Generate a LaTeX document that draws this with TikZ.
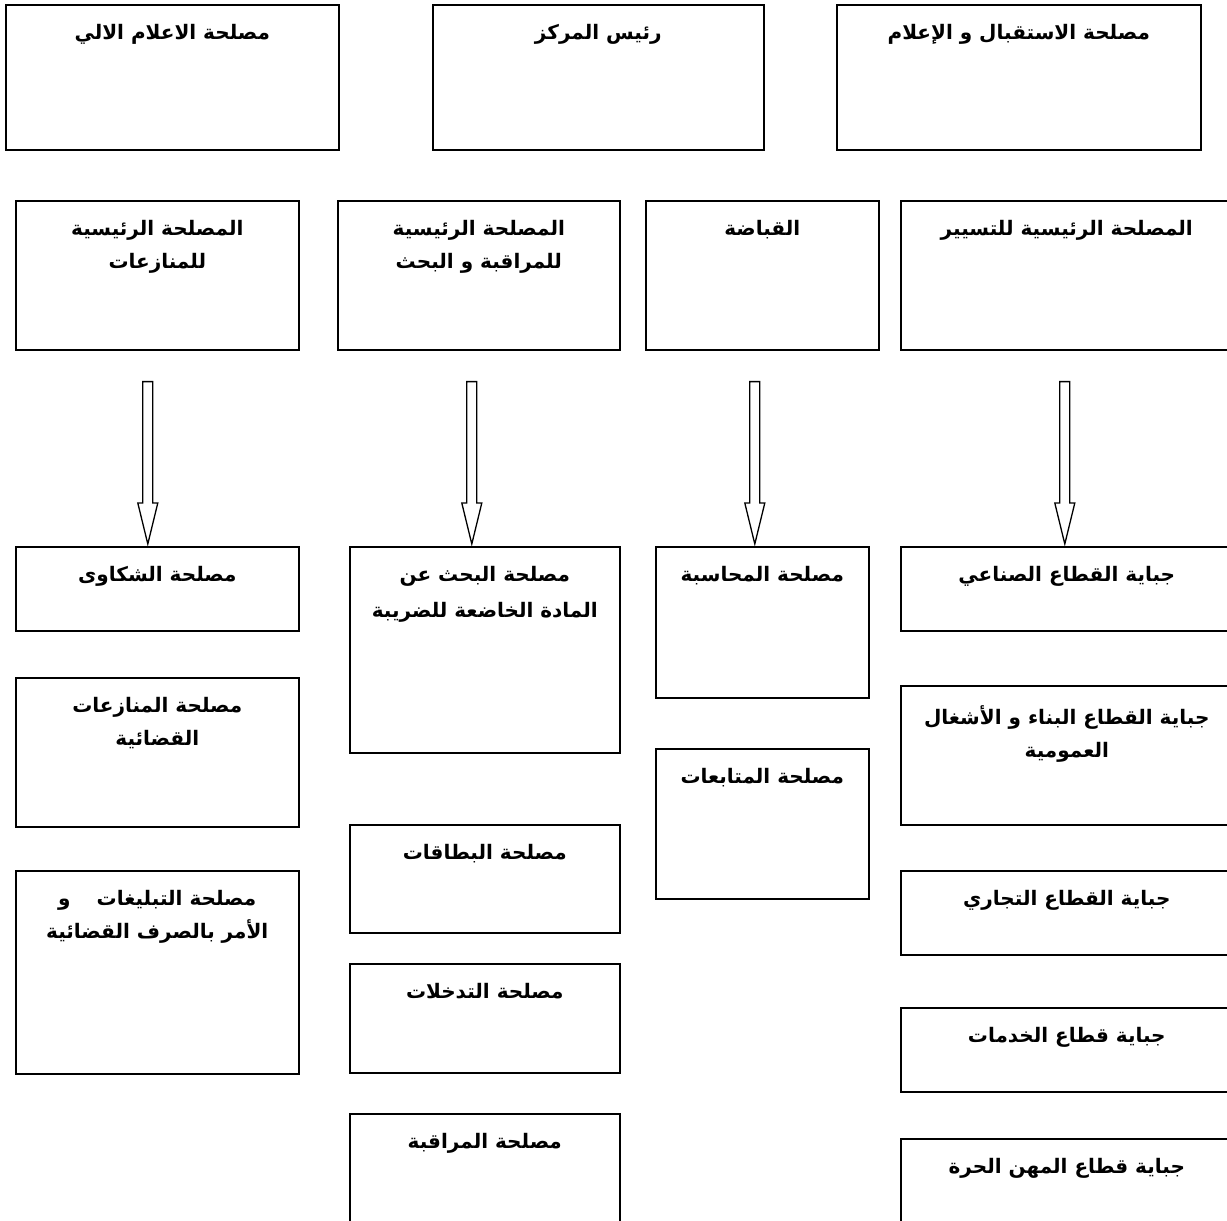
\documentclass[tikz,border=0pt]{standalone}
\usepackage{fontspec}
\TeXXeTstate=1
\newfontfamily\arabicfont[Script=Arabic]{DejaVu Sans}
\usetikzlibrary{calc}
\newcommand\artx[1]{\beginR #1\endR}
\newcommand\ttoff{-20}
\tikzset{
  box/.style={draw, line width=1.6pt, anchor=north west, inner sep=0pt, rectangle},
  ttl/.style={font=\arabicfont\bfseries\fontsize{20}{33}\selectfont, align=center, anchor=north, inner sep=0pt},
  harrow/.style={draw, line width=1.3pt, fill=white, line join=miter}
}
\newcommand\bx[6]{%
  \node[box, minimum width={(#4-#2)*1pt}, minimum height={(#5-#3)*1pt}] (#1) at (#2,#3) {};
  \node[ttl] (#1t) at ($(#1.north)+(0,-\ttoff)$) {#6};}
\newcommand\harr[3]{% source, target, x offset of tip from target centre
  \coordinate (#2tip) at ($(#2.north)+(#3,-2)$);
  \coordinate (#1tail) at ($(#1.south)+(0,31)$);
  \draw[harrow] ($(#1tail -| #2tip)+(-5,0)$) -- ($(#2tip)+(-5,-41)$) -- ++(-5,0) -- (#2tip)
     -- ++(10,-41) -- ++(-5,0) -- ($(#1tail -| #2tip)+(5,0)$) -- cycle;}
\begin{document}
\begin{tikzpicture}[x=1pt,y=-1pt]
\useasboundingbox (0,0) rectangle (1227,1221);
\fill[white] (0,0) rectangle (1227,1221);
\clip (0,0) rectangle (1227,1221);
% top row
\bx{A}{5}{4}{338}{149}{\artx{مصلحة الاعلام الالي}}
\bx{B}{432}{4}{763}{149}{\artx{رئيس المركز}}
\bx{C}{836}{4}{1200}{149}{\artx{مصلحة الاستقبال و الإعلام}}
% middle row
\bx{D}{15}{200}{298}{349}{\artx{المصلحة الرئيسية}\\\artx{للمنازعات}}
\bx{E}{337}{200}{619}{349}{\artx{المصلحة الرئيسية}\\\artx{للمراقبة و البحث}}
\bx{F}{645}{200}{878}{349}{\artx{القباضة}}
\bx{G}{900}{200}{1232}{349}{\artx{المصلحة الرئيسية للتسيير}}
% column 1
\bx{pa}{15}{546}{298}{630}{\artx{مصلحة الشكاوى}}
\bx{pb}{15}{677}{298}{826}{\artx{مصلحة المنازعات}\\\artx{القضائية}}
\bx{pc}{15}{870}{298}{1073}{\artx{مصلحة التبليغات\hspace{26pt}و}\\\artx{الأمر بالصرف القضائية}}
% column 2
\bx{qa}{349}{546}{619}{752}{\artx{مصلحة البحث عن}\\[3pt]\artx{المادة الخاضعة للضريبة}}
\bx{qb}{349}{824}{619}{932}{\artx{مصلحة البطاقات}}
\bx{qc}{349}{963}{619}{1072}{\artx{مصلحة التدخلات}}
\bx{qd}{349}{1113}{619}{1240}{\artx{مصلحة المراقبة}}
% column 3
\bx{ra}{655}{546}{868}{697}{\artx{مصلحة المحاسبة}}
\bx{rb}{655}{748}{868}{898}{\artx{مصلحة المتابعات}}
% column 4
\bx{sa}{900}{546}{1232}{630}{\artx{جباية القطاع الصناعي}}
\bx{sb}{900}{685}{1232}{824}{\artx{جباية القطاع البناء و الأشغال}\\\artx{العمومية}}
\bx{sc}{900}{870}{1232}{954}{\artx{جباية القطاع التجاري}}
\bx{sd}{900}{1007}{1232}{1091}{\artx{جباية قطاع الخدمات}}
\bx{se}{900}{1138}{1232}{1240}{\artx{جباية قطاع المهن الحرة}}
% hollow arrows
\harr{D}{pa}{-9.5}
\harr{E}{qa}{-13}
\harr{F}{ra}{-7.5}
\harr{G}{sa}{-2}
\end{tikzpicture}
\end{document}
